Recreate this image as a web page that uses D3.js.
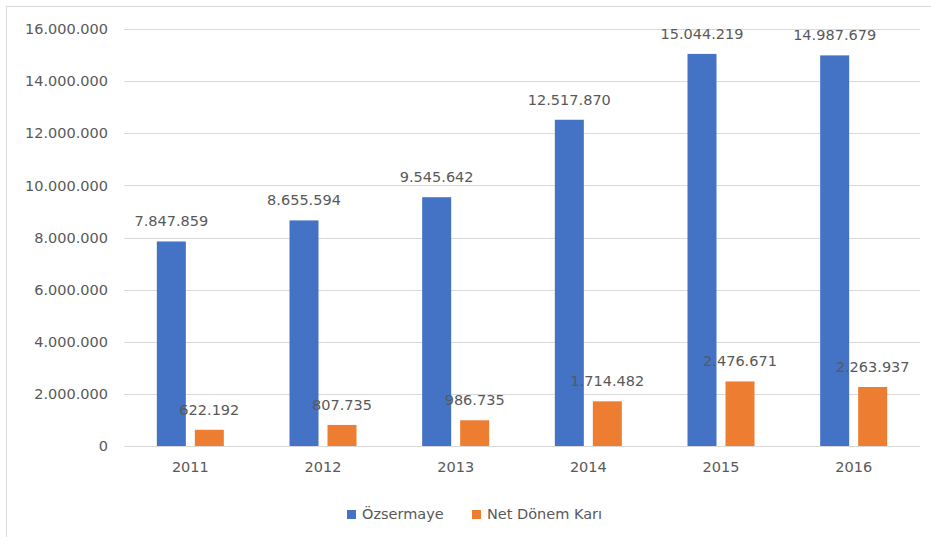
<!DOCTYPE html>
<html>
<head>
<meta charset="utf-8">
<script src="https://cdn.jsdelivr.net/npm/d3@7"></script>
<style>
  body { margin: 0; background: #fff; overflow: hidden; }
  text { font-family: "DejaVu Sans", sans-serif; fill: #595959; }
</style>
</head>
<body>
<div id="chart_container"></div>
<script>
// data
var years = ['2011', '2012', '2013', '2014', '2015', '2016']
var ozsermaye = [7847859, 8655594, 9545642, 12517870, 15044219, 14987679]
var net_donem_kari = [622192, 807735, 986735, 1714482, 2476671, 2263937]
var series_names = ['Özsermaye', 'Net Dönem Karı']
var series_colors = ['#4472C4', '#ED7D31']
var y_ticks = [0, 2000000, 4000000, 6000000, 8000000, 10000000, 12000000, 14000000, 16000000]

var W = 931, H = 537
var margin = {top: 29, right: 11, bottom: 91, left: 124},
    width = W - margin.left - margin.right,
    height = H - margin.top - margin.bottom

// dots as thousands separator
var fmt = d3.formatLocale({decimal: ',', thousands: '.', grouping: [3], currency: ['', '']}).format(',d')

var svg = d3.select('#chart_container')
    .append('svg')
    .attr('width', W)
    .attr('height', H)

// chart frame (right and bottom edges fall outside the picture)
svg.append('rect')
    .attr('x', 6.5).attr('y', 6.5)
    .attr('width', W + 20).attr('height', H + 20)
    .attr('fill', '#fff')
    .attr('stroke', '#d9d9d9')

var g = svg.append('g')
    .attr('transform', 'translate(' + margin.left + ',' + margin.top + ')')

var x = d3.scaleBand()
    .domain(years)
    .range([0, width])

var y = d3.scaleLinear()
    .domain([0, 16000000])
    .range([height, 0])

// gridlines
g.selectAll('.grid')
    .data(y_ticks)
    .enter()
    .append('line')
        .attr('x1', 0).attr('x2', width)
        .attr('y1', function(d) { return Math.round(y(d)) + 0.5 })
        .attr('y2', function(d) { return Math.round(y(d)) + 0.5 })
        .attr('stroke', '#d9d9d9')
        .attr('stroke-width', 1)

// y axis labels
var yAxis = g.append('g')
    .call(d3.axisLeft(y).tickValues(y_ticks).tickFormat(fmt).tickSize(0).tickPadding(16))
yAxis.select('.domain').remove()
yAxis.selectAll('text').style('font-size', '14.5px').attr('fill', '#595959')

// x axis labels
var xAxis = g.append('g')
    .attr('transform', 'translate(0,' + height + ')')
    .call(d3.axisBottom(x).tickSize(0).tickPadding(16))
xAxis.select('.domain').remove()
xAxis.selectAll('text').style('font-size', '14.5px').attr('fill', '#595959')

var barW = 29, gap = 9

var all_series = [ozsermaye, net_donem_kari]

all_series.forEach(function(values, s) {
    var offset = s == 0 ? -(barW + gap / 2) : gap / 2

    g.selectAll('.bar' + s)
        .data(values)
        .enter()
        .append('rect')
            .attr('x', function(d, i) { return x(years[i]) + x.bandwidth() / 2 + offset })
            .attr('y', function(d) { return y(d) })
            .attr('width', barW)
            .attr('height', function(d) { return height - y(d) })
            .attr('fill', series_colors[s])

    g.selectAll('.lbl' + s)
        .data(values)
        .enter()
        .append('text')
            .attr('x', function(d, i) { return x(years[i]) + x.bandwidth() / 2 + offset + barW / 2 })
            .attr('y', function(d) { return y(d) - 15 })
            .attr('text-anchor', 'middle')
            .style('font-size', '14.5px')
            .attr('fill', '#404040')
            .text(function(d) { return fmt(d) })
})

// legend
var legend_x = [347, 472]
series_names.forEach(function(name, s) {
    svg.append('rect')
        .attr('x', legend_x[s]).attr('y', 510)
        .attr('width', 9).attr('height', 9)
        .attr('fill', series_colors[s])
    svg.append('text')
        .attr('x', legend_x[s] + 15).attr('y', 519)
        .style('font-size', '14.5px')
        .attr('fill', '#595959')
        .text(name)
})
</script>
</body>
</html>
